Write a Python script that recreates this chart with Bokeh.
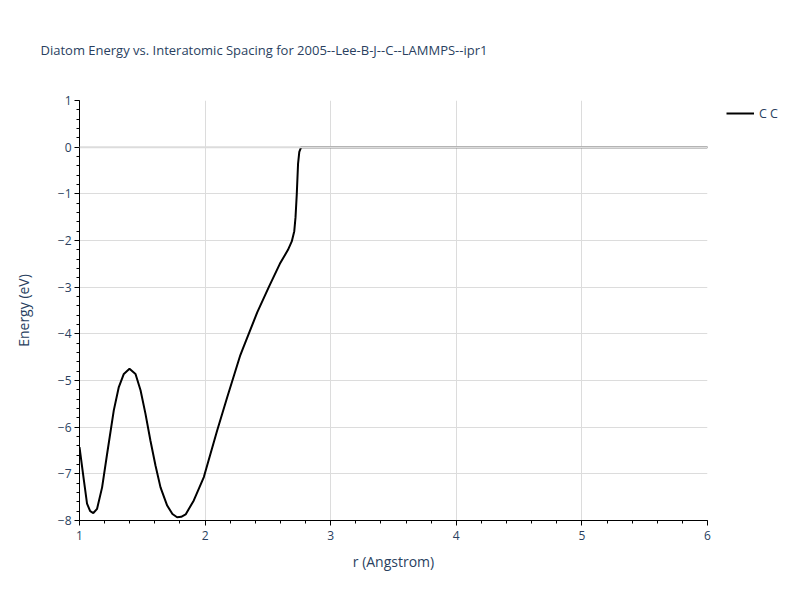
from bokeh.plotting import figure
from bokeh.layouts import row
from bokeh.models import Range1d, Legend, LegendItem, Span, CustomJSTickFormatter, FixedTicker
from bokeh.embed import file_html
from bokeh.resources import INLINE

r_values = [1.0, 1.035, 1.06, 1.085, 1.11, 1.14, 1.18, 1.22, 1.273, 1.313, 1.353, 1.398,
            1.446, 1.486, 1.525, 1.565, 1.605, 1.645, 1.698, 1.74, 1.777, 1.81, 1.845, 1.91,
            1.99, 2.096, 2.176, 2.28, 2.30, 2.415, 2.507, 2.595, 2.66, 2.69, 2.71, 2.72,
            2.73, 2.74, 2.75, 2.765, 6.0]
energy_values = [-6.43, -7.14, -7.64, -7.8, -7.84, -7.75, -7.29, -6.57, -5.64, -5.14, -4.86, -4.75,
                 -4.86, -5.21, -5.71, -6.29, -6.82, -7.29, -7.68, -7.86, -7.93, -7.92, -7.87, -7.57,
                 -7.07, -6.07, -5.36, -4.46, -4.32, -3.54, -3.0, -2.5, -2.2, -2.02, -1.8, -1.5,
                 -1.0, -0.36, -0.1, 0.0, 0.0]
x_ticks = [1, 2, 3, 4, 5, 6]
y_ticks = [1, 0, -1, -2, -3, -4, -5, -6, -7, -8]
series_name = "C C"
title_text = "Diatom Energy vs. Interatomic Spacing for 2005--Lee-B-J--C--LAMMPS--ipr1"

FONT = "Open Sans"
TXT = "#2a3f5f"
GRID = "#dcdcdc"

p = figure(width=723, height=600, output_backend="svg", toolbar_location=None,
           x_range=Range1d(1, 6), y_range=Range1d(-8, 1),
           min_border_left=79, min_border_right=16, min_border_top=100, min_border_bottom=80)
p.outline_line_color = None
p.background_fill_color = "white"
p.border_fill_color = "white"

p.title.text = title_text
p.title.text_font = FONT
p.title.text_font_size = "13px"
p.title.text_font_style = "normal"
p.title.text_color = TXT
p.title.offset = -39
p.title.vertical_align = "top"
p.title.standoff = 80

p.xgrid.grid_line_color = GRID
p.ygrid.grid_line_color = GRID

zero = Span(location=0, dimension="width", line_color=GRID, line_width=2)
p.add_layout(zero)

minor_x = [1 + 0.2 * i for i in range(26)]
minor_y = [-8 + 0.2 * i for i in range(46)]
p.xaxis.ticker = FixedTicker(ticks=x_ticks, minor_ticks=minor_x)
p.yaxis.ticker = FixedTicker(ticks=y_ticks, minor_ticks=minor_y)
fmt = CustomJSTickFormatter(code="return tick < 0 ? '\u2212' + Math.abs(tick) : String(tick);")
p.yaxis.formatter = fmt

for ax in (p.xaxis[0], p.yaxis[0]):
    ax.axis_line_color = "black"
    ax.axis_line_width = 1
    ax.major_tick_line_color = "black"
    ax.minor_tick_line_color = "black"
    ax.major_tick_out = 5
    ax.major_tick_in = 0
    ax.minor_tick_out = 3
    ax.minor_tick_in = 0
    ax.major_label_text_font = FONT
    ax.major_label_text_font_size = "12px"
    ax.major_label_text_color = TXT
    ax.axis_label_text_font = FONT
    ax.axis_label_text_font_size = "14px"
    ax.axis_label_text_font_style = "normal"
    ax.axis_label_text_color = TXT

p.xaxis.axis_label = "r (Angstrom)"
p.yaxis.axis_label = "Energy (eV)"
p.xaxis.major_label_standoff = 5
p.xaxis.axis_label_standoff = 9
p.yaxis.major_label_standoff = 3
p.yaxis.axis_label_standoff = 22

line = p.line(r_values, energy_values, line_color="black", line_width=2)

# legend panel: a separate axis-less figure to the right; its proxy line lies outside its ranges
q = figure(width=77, height=600, output_backend="svg", toolbar_location=None,
           x_range=Range1d(100, 101), y_range=Range1d(100, 101),
           min_border_left=0, min_border_right=0, min_border_top=100, min_border_bottom=80)
q.axis.visible = False
q.grid.visible = False
q.outline_line_color = None
q.background_fill_color = "white"
q.border_fill_color = "white"
proxy = q.line(r_values, energy_values, line_color="black", line_width=2)

legend = Legend(items=[LegendItem(label=series_name, renderers=[proxy])],
                location="top_left", padding=7, margin=3,
                border_line_color=None, background_fill_alpha=0,
                glyph_width=28, glyph_height=20, label_standoff=5,
                label_text_font=FONT, label_text_font_size="12.5px", label_text_color=TXT)
q.add_layout(legend, "center")

layout = row(p, q, spacing=0)
open("out.html", "w").write(file_html(layout, INLINE))
